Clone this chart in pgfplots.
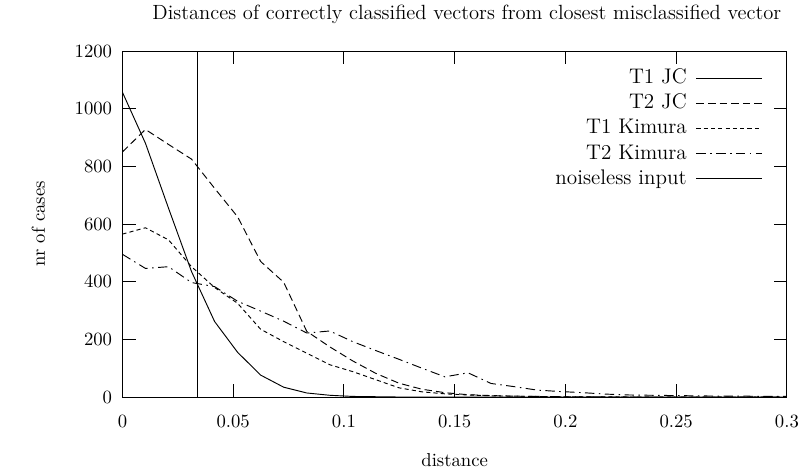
\documentclass[border=0pt]{standalone}
\usepackage{pgfplots}
\pgfplotsset{compat=1.18}

% distance bins (step 0.0104), counts per bin
\begin{document}
\begin{tikzpicture}
\begin{axis}[
    scale only axis,
    width=355.5pt, height=185.1pt,
    xmin=0, xmax=0.3,
    ymin=0, ymax=1200,
    xtick={0,0.05,0.1,0.15,0.2,0.25,0.3},
    xticklabels={0,0.05,0.1,0.15,0.2,0.25,0.3},
    ytick={0,200,400,600,800,1000,1200},
    yticklabel style={/pgf/number format/1000 sep={}, xshift=-2pt},
    xticklabel style={yshift=-6pt},
    tick align=inside,
    major tick length=7pt,
    axis line style={line width=0.5pt},
    every tick/.style={line width=0.5pt, black},
    no markers,
    every axis title shift=0pt,
    title={Distances of correctly classified vectors from closest misclassified vector},
    title style={at={(axis description cs:0.5,1)}, anchor=base, yshift=16.6pt,
        xshift=6.5pt, font=\fontsize{11}{13}\selectfont},
    xlabel={distance},
    xlabel style={at={(axis description cs:0.5,0)}, anchor=center, yshift=-34pt},
    ylabel={nr of cases},
    ylabel style={at={(axis description cs:0,0.5)}, anchor=center, yshift=45pt},
    legend plot pos=right,
    legend cell align=right,
    legend image code/.code={\draw[#1] (0pt,0pt) -- (35pt,0pt);},
    legend style={at={(axis description cs:0.972,0.968)}, anchor=north east,
        draw=none, fill=none, column sep=3pt, font=\fontsize{11.3}{13}\selectfont,
        nodes={text height=7.5pt, text depth=2pt, inner sep=1.95pt}},
]
% T1 JC
\addplot[black, solid, line width=0.5pt] coordinates {
(0,1057) (0.0104,880) (0.0208,655) (0.0312,435) (0.0416,262) (0.052,155)
(0.0624,76) (0.0728,34) (0.0832,14) (0.0936,6) (0.104,2) (0.1144,1)
(0.1248,0) (0.1352,0) (0.1456,0) (0.156,0) (0.1664,0) (0.1768,0) (0.1872,0)
(0.1976,0) (0.208,0) (0.2184,0) (0.2288,0) (0.2392,0) (0.2496,0) (0.26,0)
(0.2704,0) (0.2808,0) (0.2912,0) (0.3016,0)
};
\addlegendentry{T1 JC}
% T2 JC
\addplot[black, line width=0.5pt, dash pattern=on 4pt off 2.2pt] coordinates {
(0,850) (0.0104,928) (0.0208,876) (0.0312,825) (0.0416,724) (0.052,625)
(0.0624,470) (0.0728,398) (0.0832,228) (0.0936,174) (0.104,125) (0.1144,82)
(0.1248,48) (0.1352,27) (0.1456,15) (0.156,8) (0.1664,5) (0.1768,3) (0.1872,2)
(0.1976,1) (0.208,1) (0.2184,0) (0.2288,0) (0.2392,0) (0.2496,0) (0.26,0)
(0.2704,0) (0.2808,0) (0.2912,0) (0.3016,0)
};
\addlegendentry{T2 JC}
% T1 Kimura
\addplot[black, line width=0.5pt, dash pattern=on 2.2pt off 1.7pt] coordinates {
(0,565) (0.0104,587) (0.0208,545) (0.0312,452) (0.0416,380) (0.052,325)
(0.0624,235) (0.0728,192) (0.0832,152) (0.0936,112) (0.104,88) (0.1144,60)
(0.1248,32) (0.1352,18) (0.1456,11) (0.156,7) (0.1664,4) (0.1768,3) (0.1872,2)
(0.1976,1) (0.208,1) (0.2184,1) (0.2288,0) (0.2392,0) (0.2496,0) (0.26,0)
(0.2704,0) (0.2808,0) (0.2912,0) (0.3016,0)
};
\addlegendentry{T1 Kimura}
% T2 Kimura
\addplot[black, line width=0.5pt, dash pattern=on 5pt off 2.4pt on 0.8pt off 2.4pt] coordinates {
(0,495) (0.0104,446) (0.0208,452) (0.0312,397) (0.0416,383) (0.052,332)
(0.0624,298) (0.0728,263) (0.0832,222) (0.0936,229) (0.104,192) (0.1144,161)
(0.1248,131) (0.1352,100) (0.1456,70) (0.156,84) (0.1664,47) (0.1768,36)
(0.1872,24) (0.1976,19) (0.208,15) (0.2184,10) (0.2288,7) (0.2392,6)
(0.2496,5) (0.26,4) (0.2704,3) (0.2808,3) (0.2912,2) (0.3016,2)
};
\addlegendentry{T2 Kimura}
% noiseless input
\addplot[black, solid, line width=0.5pt] coordinates {(0.0338,0) (0.0338,1300)};
\addlegendentry{noiseless input}
\end{axis}
\pgfresetboundingbox
\path (-65.5pt,-40.7pt) rectangle (365.7pt,212.4pt);
\end{tikzpicture}
\end{document}
